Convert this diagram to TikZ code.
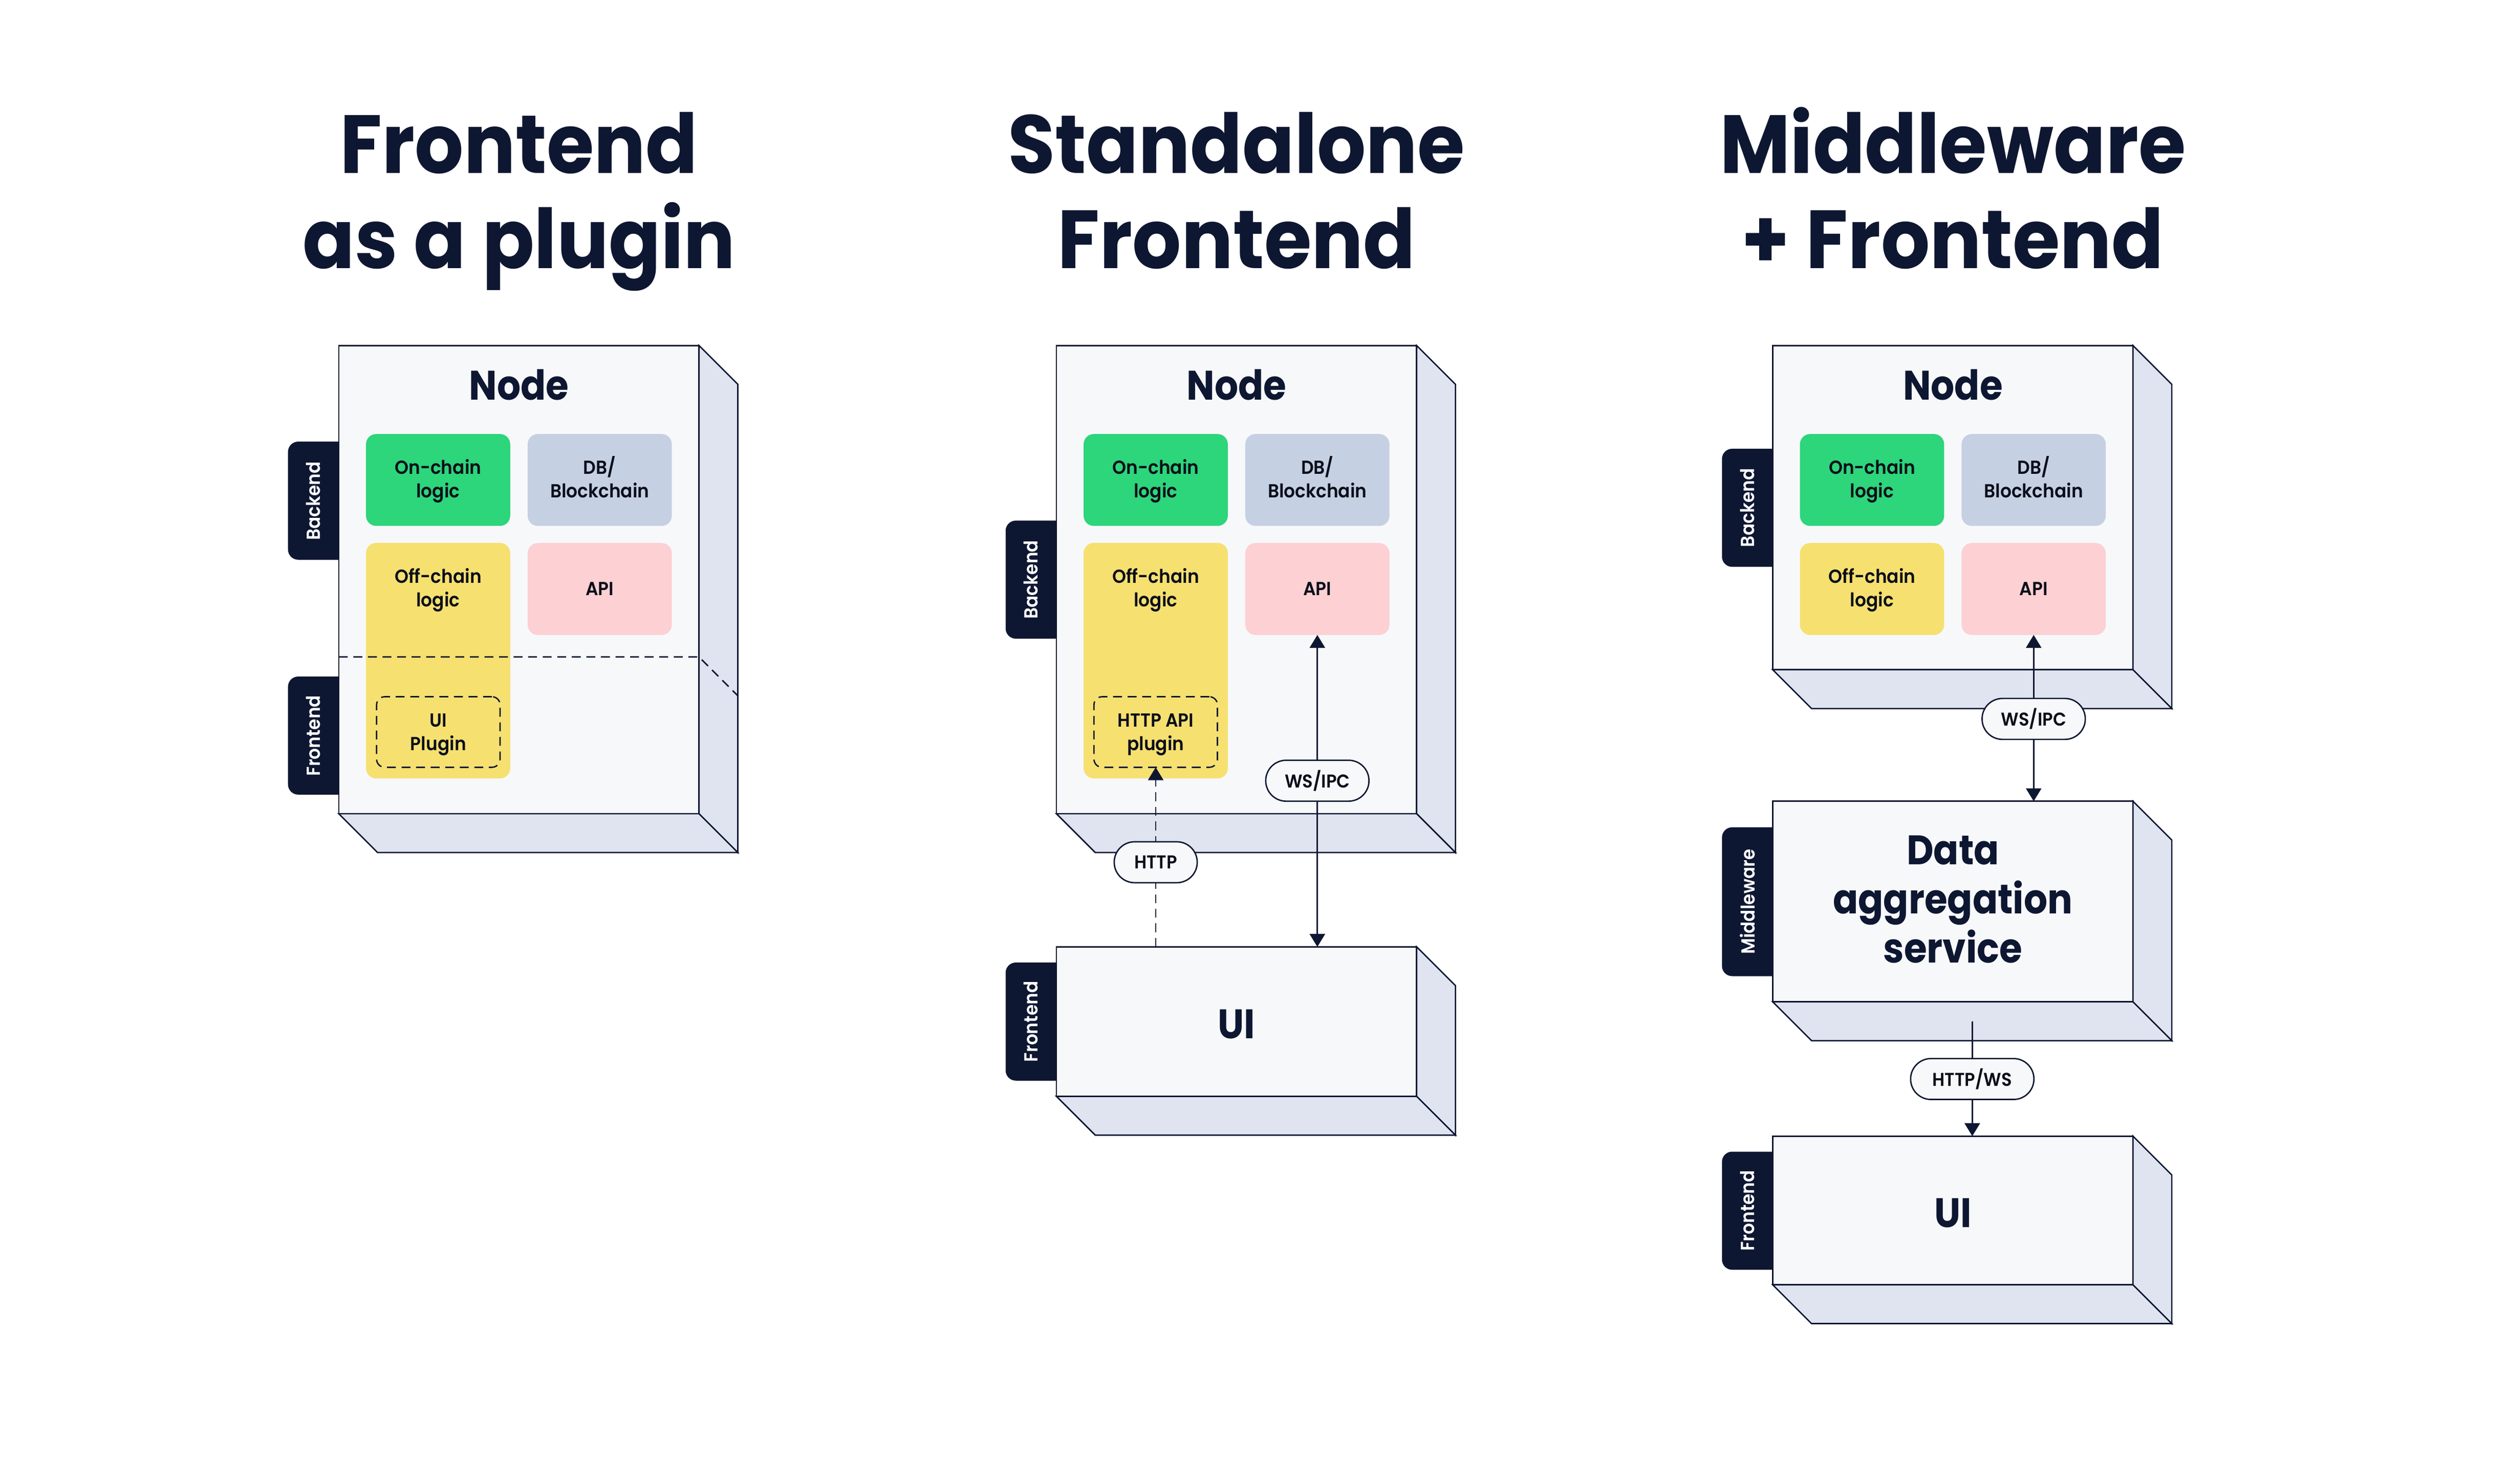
\documentclass[tikz,border=0pt]{standalone}
\usepackage{fontspec}
\setmainfont{Poppins}
\newfontfamily\fsemi{Poppins}[UprightFont={* SemiBold},FakeStretch=0.93]
\newfontfamily\ftitle{Poppins}[UprightFont={* Bold},FakeStretch=0.93]
\newfontfamily\fbig{Poppins}[UprightFont={* Bold},FakeStretch=0.9]
\usetikzlibrary{arrows.meta,calc}
\definecolor{navy}{HTML}{0E1731}
\definecolor{facefront}{HTML}{F7F8FA}
\definecolor{faceside}{HTML}{DFE4F0}
\definecolor{cgreen}{HTML}{2DD57B}
\definecolor{cdb}{HTML}{C6D0E3}
\definecolor{cyellow}{HTML}{F6E070}
\definecolor{cpink}{HTML}{FDD0D3}
\definecolor{ink}{HTML}{0B0F1A}
\newcommand\twol[2]{\vtop{\halign{\hfil##\hfil\cr#1\cr#2\cr}}}
\newcommand\threel[3]{\vtop{\halign{\hfil##\hfil\cr#1\cr#2\cr#3\cr}}}
\tikzset{
  frontface/.style={draw=navy, fill=facefront, line width=0.85pt, inner sep=0pt, outer sep=0pt, minimum width=222.6pt},
  sideface/.style={draw=navy, fill=faceside, line width=0.85pt},
  cell/.style={rounded corners=6.3pt, inner sep=0pt, outer sep=0pt, minimum width=89.1pt, minimum height=56.8pt},
  dbox/.style={draw=navy, line width=0.85pt, dash pattern=on 5.5pt off 3.5pt, rounded corners=5pt, inner sep=0pt, outer sep=0pt, minimum width=76.3pt, minimum height=43.6pt},
  dline/.style={draw=navy, line width=0.85pt, dash pattern=on 5.5pt off 3.5pt},
  lbl/.style={font=\fsemi\fontsize{11.7}{14.5}\selectfont, text=ink, anchor=base, inner sep=0pt},
  tabfill/.style={fill=navy, rounded corners=6.3pt},
  tablbl/.style={font=\fsemi\fontsize{11.7}{14}\selectfont, text=white, rotate=90, inner sep=0pt},
  pill/.style={draw=navy, fill=facefront, line width=0.85pt, rounded corners=12.6pt, minimum height=25.3pt, inner sep=0pt, font=\fsemi\fontsize{11.5}{13}\selectfont, text=ink},
  arr/.style={draw=navy, line width=0.9pt, -{Triangle[length=8pt,width=9.5pt]}},
  arrboth/.style={draw=navy, line width=0.9pt, {Triangle[length=8pt,width=9.5pt]}-{Triangle[length=8pt,width=9.5pt]}},
  ttl/.style={font=\ftitle\fontsize{51}{58.9}\selectfont, text=navy, anchor=base, inner sep=0pt},
  bigtxt/.style={font=\fbig\fontsize{25.5}{30.35}\selectfont, text=navy, anchor=base, inner sep=0pt},
}
\begin{document}
\begin{tikzpicture}[x=1pt,y=-1pt]
\useasboundingbox[fill=white] (0,0) rectangle (1550,917.35);

% ---------------- Panel 1 ----------------
\begin{scope}[xshift=209.4pt]
  \node[ttl] (t1) at (111.3,107) {\twol{Frontend}{as a plugin}};
  \fill[tabfill] (-31.4,273) rectangle (10,346);
  \fill[tabfill] (-31.4,418.2) rectangle (10,491.2);
  \node[frontface, minimum height=289.4pt] (n1) at (111.3,358.3) {};
  \path[sideface] (n1.north east) -- ++(24,24) -- ($(n1.south east)+(24,24)$) -- (n1.south east) -- cycle;
  \path[sideface] (n1.south west) -- ++(24,24) -- ($(n1.south east)+(24,24)$) -- (n1.south east) -- cycle;
  \node[tablbl] (tb1) at (-15.7,309.6) {Backend};
  \node[tablbl] (tf1) at (-15.7,454.7) {Frontend};
  \node[bigtxt] (nt1) at (111.3,247.3) {Node};
  \node[cell, fill=cgreen] (oc1) at (61.35,296.7) {};
  \node[cell, fill=cdb] (db1) at (161.25,296.7) {};
  \node[cell, fill=cyellow, minimum height=145.6pt] (of1) at (61.35,408.4) {};
  \node[cell, fill=cpink] (api1) at (161.25,364.1) {};
  \node[lbl] (oct1) at (61.35,293.2) {\twol{On-chain}{logic}};
  \node[lbl] (dbt1) at (161.25,293.2) {\twol{DB/}{Blockchain}};
  \node[lbl] (oft1) at (61.35,360.6) {\twol{Off-chain}{logic}};
  \node[lbl] (apit1) at (161.25,368.2) {API};
  \draw[dline] (n1.west |- 0,406.1) coordinate (dv1a) -- (n1.east |- 0,406.1) coordinate (dv1b) -- ++(24,24) coordinate (dv1c);
  \node[dbox] (uip1) at (61.5,452.5) {};
  \node[lbl] (uipt1) at (61.5,449.4) {\twol{UI}{Plugin}};
\end{scope}

% ---------------- Panel 2 ----------------
\begin{scope}[xshift=652.9pt]
  \node[ttl] (t2) at (111.3,107) {\twol{Standalone}{Frontend}};
  \fill[tabfill] (-31.4,321.8) rectangle (10,394.8);
  \fill[tabfill] (-31.4,595) rectangle (10,668);
  \node[frontface, minimum height=289.4pt] (n2) at (111.3,358.3) {};
  \path[sideface] (n2.north east) -- ++(24,24) -- ($(n2.south east)+(24,24)$) -- (n2.south east) -- cycle;
  \path[sideface] (n2.south west) -- ++(24,24) -- ($(n2.south east)+(24,24)$) -- (n2.south east) -- cycle;
  \node[frontface, minimum height=92.4pt] (ui2) at (111.3,631.5) {};
  \path[sideface] (ui2.north east) -- ++(24,24) -- ($(ui2.south east)+(24,24)$) -- (ui2.south east) -- cycle;
  \path[sideface] (ui2.south west) -- ++(24,24) -- ($(ui2.south east)+(24,24)$) -- (ui2.south east) -- cycle;
  \node[tablbl] (tb2) at (-15.7,358.3) {Backend};
  \node[tablbl] (tf2) at (-15.7,631.5) {Frontend};
  \node[bigtxt] (nt2) at (111.3,247.3) {Node};
  \node[bigtxt] (uit2) at (111.3,642) {UI};
  \node[cell, fill=cgreen] (oc2) at (61.35,296.7) {};
  \node[cell, fill=cdb] (db2) at (161.25,296.7) {};
  \node[cell, fill=cyellow, minimum height=145.6pt] (of2) at (61.35,408.4) {};
  \node[cell, fill=cpink] (api2) at (161.25,364.1) {};
  \node[lbl] (oct2) at (61.35,293.2) {\twol{On-chain}{logic}};
  \node[lbl] (dbt2) at (161.25,293.2) {\twol{DB/}{Blockchain}};
  \node[lbl] (oft2) at (61.35,360.6) {\twol{Off-chain}{logic}};
  \node[lbl] (apit2) at (161.25,368.2) {API};
  \node[dbox] (hap2) at (61.35,452.5) {};
  \node[lbl] (hapt2) at (61.35,449.4) {\twol{HTTP API}{plugin}};
  \draw[arrboth] (api2.south) -- (api2.south |- ui2.north);
  \draw[arr, dash pattern=on 5.5pt off 3.5pt] (hap2.south |- ui2.north) -- (hap2.south);
  \node[pill, minimum width=63.8pt] (ws2) at (161.25,482.6) {WS/IPC};
  \node[pill, minimum width=51.3pt] (http2) at (61.35,533) {HTTP};
\end{scope}

% ---------------- Panel 3 ----------------
\begin{scope}[xshift=1095.6pt]
  \node[ttl] (t3) at (111.3,107) {\twol{Middleware}{+ Frontend}};
  \fill[tabfill] (-31.4,277.4) rectangle (10,350.4);
  \fill[tabfill] (-31.4,511.4) rectangle (10,603.4);
  \fill[tabfill] (-31.4,711.9) rectangle (10,784.9);
  \node[frontface, minimum height=200.4pt] (n3) at (111.3,313.8) {};
  \path[sideface] (n3.north east) -- ++(24,24) -- ($(n3.south east)+(24,24)$) -- (n3.south east) -- cycle;
  \path[sideface] (n3.south west) -- ++(24,24) -- ($(n3.south east)+(24,24)$) -- (n3.south east) -- cycle;
  \node[frontface, minimum height=124pt] (data3) at (111.3,557.3) {};
  \path[sideface] (data3.north east) -- ++(24,24) -- ($(data3.south east)+(24,24)$) -- (data3.south east) -- cycle;
  \path[sideface] (data3.south west) -- ++(24,24) -- ($(data3.south east)+(24,24)$) -- (data3.south east) -- cycle;
  \node[frontface, minimum height=91.9pt] (ui3) at (111.3,748.25) {};
  \path[sideface] (ui3.north east) -- ++(24,24) -- ($(ui3.south east)+(24,24)$) -- (ui3.south east) -- cycle;
  \path[sideface] (ui3.south west) -- ++(24,24) -- ($(ui3.south east)+(24,24)$) -- (ui3.south east) -- cycle;
  \node[tablbl] (tb3) at (-15.7,313.9) {Backend};
  \node[tablbl] (tm3) at (-15.7,557.4) {Middleware};
  \node[tablbl] (tf3) at (-15.7,748.4) {Frontend};
  \node[bigtxt] (nt3) at (111.3,247.3) {Node};
  \node[bigtxt] (dt3) at (111.3,534.5) {\threel{Data}{aggregation}{service}};
  \node[bigtxt] (uit3) at (111.3,758.6) {UI};
  \node[cell, fill=cgreen] (oc3) at (61.35,296.7) {};
  \node[cell, fill=cdb] (db3) at (161.25,296.7) {};
  \node[cell, fill=cyellow] (of3) at (61.35,364.1) {};
  \node[cell, fill=cpink] (api3) at (161.25,364.1) {};
  \node[lbl] (oct3) at (61.35,293.2) {\twol{On-chain}{logic}};
  \node[lbl] (dbt3) at (161.25,293.2) {\twol{DB/}{Blockchain}};
  \node[lbl] (oft3) at (61.35,360.6) {\twol{Off-chain}{logic}};
  \node[lbl] (apit3) at (161.25,368.2) {API};
  \draw[arrboth] (api3.south) -- (api3.south |- data3.north);
  \coordinate (bf3) at ($(data3.south)+(12,12)$);
  \draw[arr] (bf3) -- (bf3 |- ui3.north);
  \node[pill, minimum width=63.8pt] (ws3) at (161.25,444.4) {WS/IPC};
  \node[pill, minimum width=76.2pt] (hw3) at (123.3,667) {HTTP/WS};
\end{scope}
\end{tikzpicture}
\end{document}
